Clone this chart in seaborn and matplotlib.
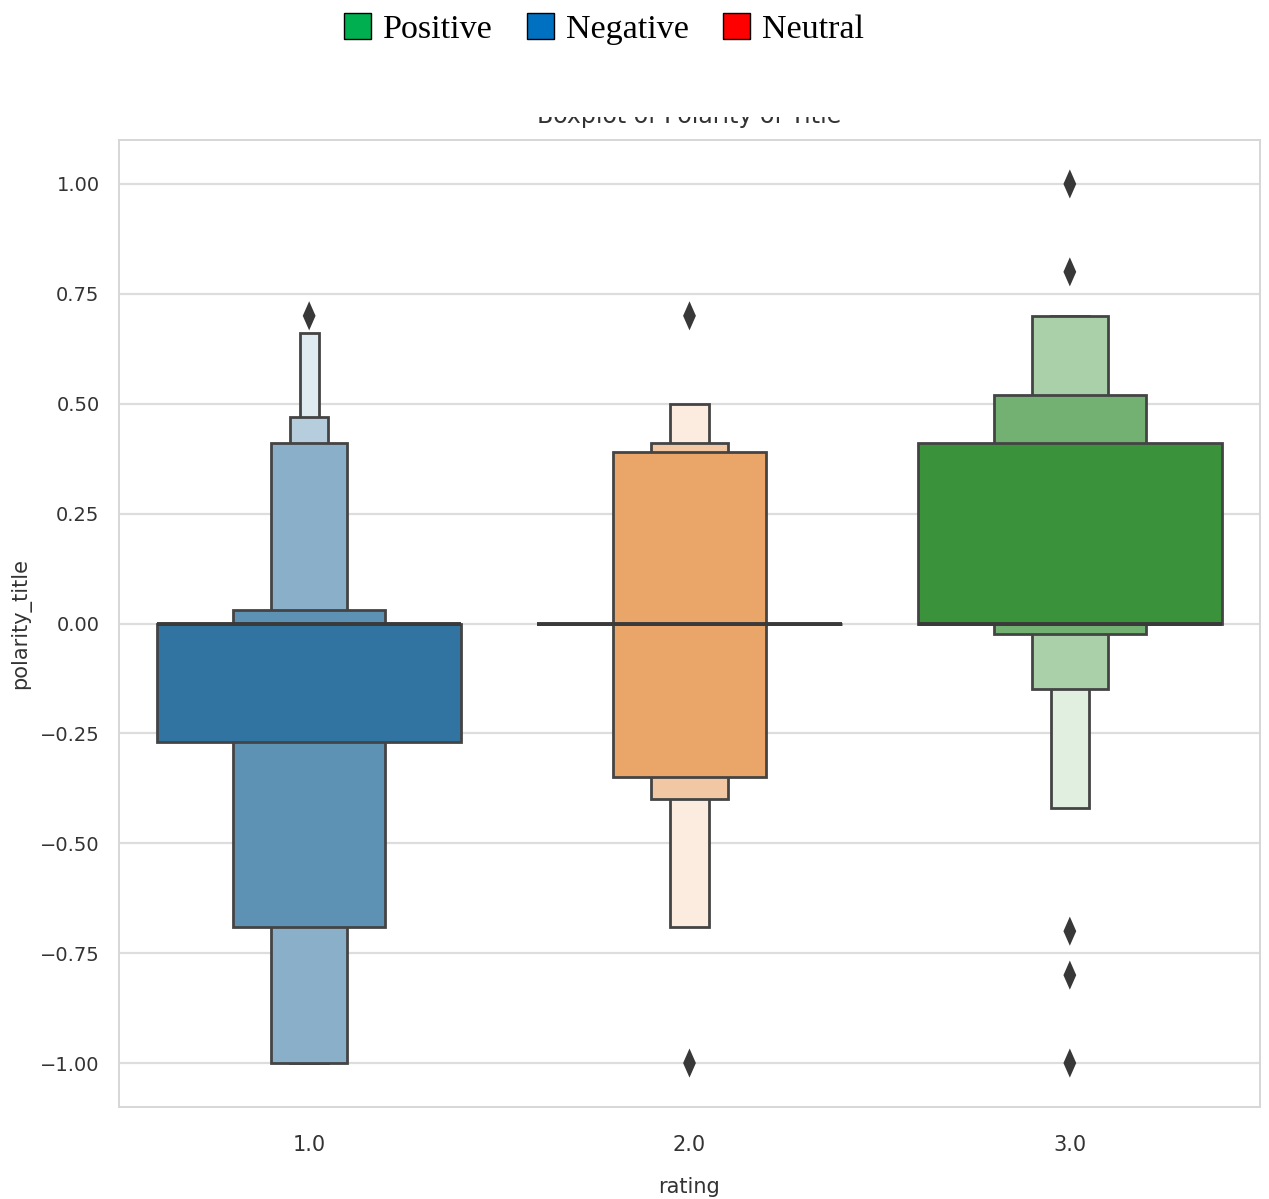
import numpy as np
import seaborn as sns
import matplotlib.pyplot as plt
from matplotlib.patches import Patch, Rectangle
from matplotlib.colors import to_rgb
from matplotlib.ticker import FuncFormatter

# categories and letter-value boxes (lower / upper edge of each level, widest level first)
ratings = ["1.0", "2.0", "3.0"]
lv_low_1 = [-0.27, -0.69, -1.00, -1.00, -1.00]
lv_high_1 = [0.00, 0.03, 0.41, 0.47, 0.66]
lv_low_2 = [0.00, -0.35, -0.40, -0.69]
lv_high_2 = [0.00, 0.39, 0.41, 0.50]
lv_low_3 = [0.00, -0.025, -0.15, -0.42]
lv_high_3 = [0.41, 0.52, 0.70, 0.70]
medians = [0.00, 0.00, 0.00]
outliers_1 = [0.70]
outliers_2 = [0.70, -1.00]
outliers_3 = [1.00, 0.80, -0.70, -0.80, -1.00]

lows = [lv_low_1, lv_low_2, lv_low_3]
highs = [lv_high_1, lv_high_2, lv_high_3]
outliers = [outliers_1, outliers_2, outliers_3]

sns.set_theme(style="whitegrid")
plt.rcParams["font.family"] = ["DejaVu Sans"]

base_colors = ["#3274a1", "#e1812c", "#3a923a"]
edge = "#444444"

fig = plt.figure(figsize=(12.69, 11.99), dpi=100)
ax = fig.add_axes([119 / 1269, 92 / 1199, 1141 / 1269, 967 / 1199])

for i, (lo, hi) in enumerate(zip(lows, highs)):
    base = np.array(to_rgb(base_colors[i]))
    k = len(lo)
    # draw narrow (outer) levels first so the wide ones sit on top
    for j in reversed(range(k)):
        t = 0.85 * j / (k - 1)
        col = base + (1 - base) * t
        w = 0.8 / 2 ** j
        ax.bar(i, hi[j] - lo[j], bottom=lo[j], width=w, color=col,
               edgecolor=edge, linewidth=2.0, zorder=2 + (k - j) * 0.1)
    ax.plot([i - 0.4, i + 0.4], [medians[i], medians[i]], color="#3a3a3a",
            linewidth=2.8, zorder=3, solid_capstyle="butt")

# outliers as thin tall diamonds
diamond = [(0, -1), (0.44, 0), (0, 1), (-0.44, 0), (0, -1)]
ox = [i for i, pts in enumerate(outliers) for _ in pts]
oy = [v for pts in outliers for v in pts]
sns.scatterplot(x=ox, y=oy, marker=diamond, s=440, color="#383838",
                edgecolor="none", ax=ax, zorder=4)

ax.set_xlim(-0.5, 2.5)
ax.set_ylim(-1.1, 1.1)
ax.set_xticks(range(len(ratings)))
ax.set_xticklabels(ratings)
ax.set_yticks([1.0, 0.75, 0.5, 0.25, 0.0, -0.25, -0.5, -0.75, -1.0])
ax.yaxis.set_major_formatter(FuncFormatter(lambda v, p: f"{v:.2f}".replace("-", "\u2212")))
ax.xaxis.grid(False)
ax.yaxis.grid(True, color="#dddddd", linewidth=1.6)
for s in ax.spines.values():
    s.set_color("#d6d6d6")
    s.set_linewidth(1.4)
ax.tick_params(axis="y", labelsize=14, colors="#333333", pad=8)
ax.tick_params(axis="x", labelsize=15, colors="#333333", pad=14)
ax.set_xlabel("rating", fontsize=15, color="#333333", labelpad=16)
ax.set_ylabel("polarity_title", fontsize=15, color="#333333", labelpad=6)
ax.set_title("Boxplot of Polarity of Title", fontsize=17, color="#333333", pad=12)

# the title is cut off along its top in the original picture
fig.patches.append(Rectangle((0.3, 1 - 117 / 1199), 0.5, 0.05, transform=fig.transFigure,
                             facecolor="white", edgecolor="none", zorder=1))

handles = [Patch(facecolor="#00b050", edgecolor="black", label="Positive"),
           Patch(facecolor="#0070c0", edgecolor="black", label="Negative"),
           Patch(facecolor="#ff0000", edgecolor="black", label="Neutral")]
fig.legend(handles=handles, loc="upper center", bbox_to_anchor=(0.476, 1.003), ncol=3,
           frameon=False, prop={"family": "Liberation Serif", "size": 24.5},
           labelcolor="black", handlelength=0.8, handleheight=0.8,
           handletextpad=0.35, columnspacing=1.0, borderaxespad=0.1)

fig.savefig("out.png", dpi=100)
